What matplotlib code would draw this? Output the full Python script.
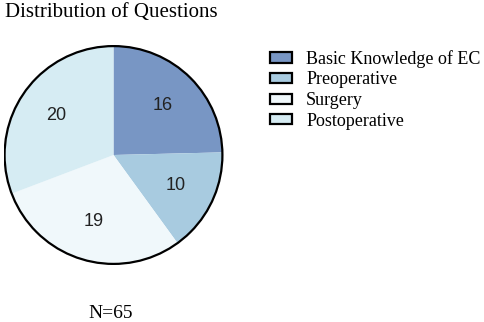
import matplotlib.pyplot as plt
from matplotlib.patches import Patch, Circle

categories = ['Basic Knowledge of EC', 'Preoperative', 'Surgery', 'Postoperative']
counts = [16, 10, 19, 20]
colors = ['#7896c4', '#a8cbe0', '#f0f8fb', '#d6ecf3']
total = sum(counts)

serif = 'Liberation Serif'

fig = plt.figure(figsize=(4.84, 3.22), dpi=100)

# pie axes, placed by hand to match the reference layout
ax = fig.add_axes([3.5 / 484, 57 / 322, 220 / 484, 220 / 322])
wedges, texts, autotexts = ax.pie(
    counts, colors=colors, startangle=90, counterclock=False,
    autopct=lambda p: '{:.0f}'.format(p * total / 100),
    pctdistance=0.64, wedgeprops=dict(linewidth=0),
    textprops=dict(fontsize=13, family='Liberation Sans', color='#222222'))
ax.add_patch(Circle((0, 0), 1, fill=False, edgecolor='black', linewidth=1.6))
ax.set_xlim(-1.01, 1.01)
ax.set_ylim(-1.01, 1.01)
ax.set_aspect('equal')
ax.axis('off')

fig.text(5 / 484, 1 - 17 / 322, 'Distribution of Questions', family=serif,
         fontsize=15, ha='left', va='baseline')
fig.text(111 / 484, 4 / 322, 'N=65', family=serif, fontsize=14,
         ha='center', va='baseline')

handles = [Patch(facecolor=c, edgecolor='black', linewidth=1.6) for c in colors]
fig.legend(handles, categories, loc='upper left',
           bbox_to_anchor=(270 / 484, 1 - 50 / 322),
           frameon=False, prop=dict(family=serif, size=13),
           labelspacing=0.2, handlelength=1.2, handleheight=0.5,
           handletextpad=0.8, borderaxespad=0, borderpad=0)

plt.savefig('out.png', dpi=100)
